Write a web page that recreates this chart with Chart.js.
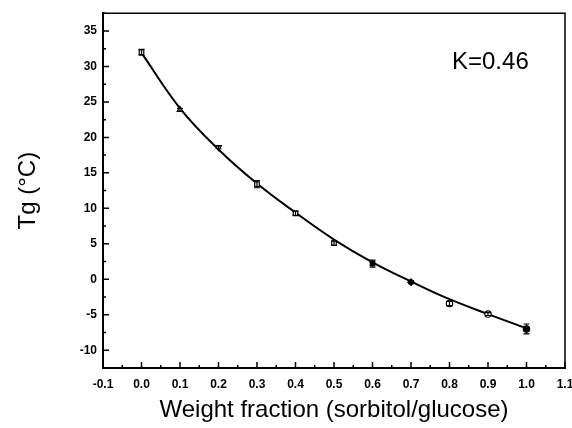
<!DOCTYPE html>
<html>
<head>
<meta charset="utf-8">
<script src="https://cdn.jsdelivr.net/npm/chart.js@4"></script>
<style>
  html, body { margin: 0; padding: 0; background: #fff; }
  #wrap { width: 572px; height: 428px; }
</style>
</head>
<body>
<div id="wrap"><canvas id="chart-tg"></canvas></div>
<script>
// measured points (weight fraction of sorbitol vs Tg)
const fractions = [0.0, 0.1, 0.2, 0.3, 0.4, 0.5, 0.6, 0.7, 0.8, 0.9, 1.0];
const tgValues = [32.0, 23.9, 18.6, 13.4, 9.3, 5.1, 2.2, -0.4, -3.4, -4.9, -7.0];
const tgErrors = [0.4, 0.2, 0.2, 0.5, 0.3, 0.3, 0.5, 0.2, 0.3, 0.2, 0.7];
const markerStyles = ['rect', 'triangle', 'triangle', 'rect', 'rect', 'rect', 'rect', 'rectRot', 'circle', 'circle', 'circle'];
const markerRotation = [0, 0, 180, 0, 0, 0, 0, 0, 0, 0, 0];
const markerFill = ['#fff', '#fff', '#fff', '#fff', '#fff', '#fff', '#000', '#000', '#fff', '#fff', '#000'];

// fitted Gordon-Taylor curve
const fitFractions = [0.0, 0.1, 0.2, 0.3, 0.4, 0.5, 0.6, 0.7, 0.8, 0.9, 1.0];
const fitValues = [31.9, 24.1, 18.3, 13.5, 9.4, 5.6, 2.4, -0.3, -2.8, -4.9, -6.9];

const xTicks = [-0.1, 0.0, 0.1, 0.2, 0.3, 0.4, 0.5, 0.6, 0.7, 0.8, 0.9, 1.0, 1.1];
const yTicks = [-10, -5, 0, 5, 10, 15, 20, 25, 30, 35];
const kLabel = 'K=0.46';

const FONT = "'Liberation Sans', Arial, sans-serif";

// inward ticks (major + minor), frame, error bars, K label
const framePlugin = {
  id: 'frame',
  afterDatasetsDraw(chart) {
    const { ctx, chartArea: a, scales: { x, y } } = chart;
    ctx.save();
    ctx.strokeStyle = '#000';

    // error bars
    ctx.lineWidth = 1.2;
    fractions.forEach((f, i) => {
      const px = x.getPixelForValue(f);
      const top = y.getPixelForValue(tgValues[i] + tgErrors[i]);
      const bot = y.getPixelForValue(tgValues[i] - tgErrors[i]);
      ctx.beginPath();
      ctx.moveTo(px, top); ctx.lineTo(px, bot);
      ctx.moveTo(px - 3, top); ctx.lineTo(px + 3, top);
      ctx.moveTo(px - 3, bot); ctx.lineTo(px + 3, bot);
      ctx.stroke();
    });

    // frame top/right
    ctx.lineWidth = 1.5;
    ctx.beginPath();
    ctx.moveTo(a.left, a.top); ctx.lineTo(a.right, a.top); ctx.lineTo(a.right, a.bottom);
    ctx.stroke();

    // ticks
    ctx.lineWidth = 1.5;
    ctx.beginPath();
    for (let i = 0; i < xTicks.length; i++) {
      const px = x.getPixelForValue(xTicks[i]);
      ctx.moveTo(px, a.bottom); ctx.lineTo(px, a.bottom - 6);
      if (i < xTicks.length - 1) {
        const mx = x.getPixelForValue((xTicks[i] + xTicks[i + 1]) / 2);
        ctx.moveTo(mx, a.bottom); ctx.lineTo(mx, a.bottom - 3);
      }
    }
    const yAll = [-12.5].concat(yTicks);
    for (let i = 0; i < yAll.length; i++) {
      const py = y.getPixelForValue(yAll[i]);
      if (i > 0) { ctx.moveTo(a.left, py); ctx.lineTo(a.left + 6, py); }
      const my = y.getPixelForValue(yAll[i] + 2.5);
      ctx.moveTo(a.left, my); ctx.lineTo(a.left + 3, my);
    }
    ctx.stroke();

    // K label
    ctx.fillStyle = '#000';
    ctx.font = '24px ' + FONT;
    ctx.textBaseline = 'middle';
    ctx.textAlign = 'left';
    ctx.fillText(kLabel, a.right - 113, a.top + 49);
    ctx.restore();
  }
};

new Chart(document.getElementById('chart-tg'), {
  type: 'scatter',
  data: {
    datasets: [
      {
        // measured
        data: fractions.map((f, i) => ({ x: f, y: tgValues[i] })),
        pointStyle: markerStyles,
        rotation: markerRotation,
        pointRadius: 3.2,
        pointBorderWidth: 1.2,
        pointBorderColor: '#000',
        pointBackgroundColor: markerFill,
        showLine: false,
        order: 0
      },
      {
        // fit line
        data: fitFractions.map((f, i) => ({ x: f, y: fitValues[i] })),
        showLine: true,
        pointRadius: 0,
        borderColor: '#000',
        borderWidth: 2,
        tension: 0.4,
        fill: false,
        order: 1
      }
    ]
  },
  options: {
    responsive: true,
    maintainAspectRatio: false,
    animation: false,
    layout: { padding: { top: 13, right: 0, left: 0, bottom: 0 } },
    plugins: { legend: { display: false }, tooltip: { enabled: false } },
    scales: {
      x: {
        type: 'linear',
        min: -0.1,
        max: 1.1,
        afterBuildTicks: s => { s.ticks = xTicks.map(v => ({ value: v })); },
        afterFit: s => { s.height = 60; s.paddingRight = 7; s.paddingLeft = 0; },
        grid: { display: false, drawTicks: false },
        border: { display: true, color: '#000', width: 2 },
        ticks: {
          color: '#000',
          padding: 9,
          maxRotation: 0,
          font: { family: FONT, size: 12, weight: 'bold' },
          callback: v => v.toFixed(1)
        },
        title: {
          display: true,
          text: 'Weight fraction (sorbitol/glucose)',
          color: '#000',
          font: { family: FONT, size: 24 },
          padding: { top: 0, bottom: 3 }
        }
      },
      y: {
        min: -12.5,
        max: 37.5,
        afterBuildTicks: s => { s.ticks = yTicks.map(v => ({ value: v })); },
        afterFit: s => { s.width = 103; },
        grid: { display: false, drawTicks: false },
        border: { display: true, color: '#000', width: 2 },
        ticks: {
          color: '#000',
          padding: 6,
          font: { family: FONT, size: 12, weight: 'bold' }
        },
        title: {
          display: true,
          text: 'Tg (\u00B0C)',
          color: '#000',
          font: { family: FONT, size: 24 },
          padding: { top: 14, bottom: 0 }
        }
      }
    }
  },
  plugins: [framePlugin]
});
</script>
</body>
</html>
